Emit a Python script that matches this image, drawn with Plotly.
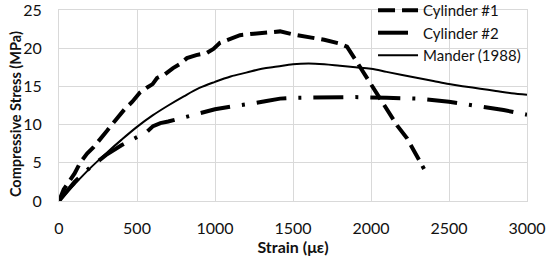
import plotly.graph_objects as go

cyl1_strain = [0, 30, 60, 100, 135, 180, 220, 263, 308, 327, 370, 420, 470, 519, 560, 600, 628, 680, 731, 780, 820, 880, 949, 990, 1032, 1100, 1160, 1250, 1372, 1417, 1500, 1600, 1700, 1800, 1846, 1900, 1994, 2080, 2167, 2231, 2290, 2340]
cyl1_stress = [0, 1.5, 2.4, 3.6, 5.0, 6.2, 7.0, 8.0, 9.2, 9.7, 10.8, 12.0, 13.0, 14.2, 14.8, 15.3, 16.1, 16.6, 17.4, 18.0, 18.7, 19.1, 19.4, 19.9, 20.7, 21.2, 21.7, 21.9, 22.1, 22.2, 21.8, 21.5, 21.1, 20.6, 20.2, 18.5, 15.4, 12.7, 9.9, 8.2, 6.1, 4.2]

cyl2_strain = [0, 50, 100, 200, 300, 400, 500, 560, 603, 650, 700, 800, 904, 1000, 1115, 1200, 1250, 1330, 1417, 1500, 1700, 1900, 2100, 2300, 2500, 2700, 2850, 3000]
cyl2_stress = [0, 1.3, 2.5, 4.4, 6.0, 7.3, 8.3, 9.0, 9.8, 10.2, 10.4, 10.9, 11.5, 12.0, 12.4, 12.6, 12.8, 13.1, 13.4, 13.5, 13.6, 13.6, 13.5, 13.4, 13.0, 12.4, 11.9, 11.3]

mander_strain = [0, 100, 200, 300, 400, 500, 600, 700, 800, 900, 1000, 1100, 1200, 1300, 1400, 1500, 1600, 1700, 1800, 1900, 2000, 2100, 2200, 2300, 2400, 2500, 2600, 2700, 2800, 2900, 3000]
mander_stress = [0, 2.2, 4.3, 6.2, 8.0, 9.7, 11.2, 12.5, 13.7, 14.8, 15.6, 16.3, 16.8, 17.3, 17.6, 17.9, 18.0, 17.9, 17.7, 17.5, 17.3, 16.9, 16.5, 16.1, 15.7, 15.3, 15.0, 14.7, 14.4, 14.1, 13.9]

series_names = ["Cylinder #1", "Cylinder #2", "Mander (1988)"]
x_ticks = [0, 500, 1000, 1500, 2000, 2500, 3000]
y_ticks = [0, 5, 10, 15, 20, 25]

FONT = "Lato, 'Open Sans', sans-serif"
TXT = "#111111"

fig = go.Figure()
fig.add_trace(go.Scatter(x=cyl1_strain, y=cyl1_stress, mode="lines", name=series_names[0],
                         line=dict(color="black", width=4, dash="17px,7px")))
fig.add_trace(go.Scatter(x=cyl2_strain, y=cyl2_stress, mode="lines", name=series_names[1],
                         line=dict(color="black", width=4, dash="30px,12px,3px,12px")))
fig.add_trace(go.Scatter(x=mander_strain, y=mander_stress, mode="lines", name=series_names[2],
                         line=dict(color="black", width=2, shape="spline")))

fig.update_layout(
    width=547, height=262,
    margin=dict(l=59, r=20, t=10, b=61, autoexpand=False),
    paper_bgcolor="white", plot_bgcolor="white",
    font=dict(family=FONT, size=16, color=TXT),
    legend=dict(x=0.671, y=1.084, xanchor="left", yanchor="top", bgcolor="rgba(0,0,0,0)",
                font=dict(size=15, color=TXT), tracegroupgap=0, itemwidth=40),
    xaxis=dict(range=[0, 3000], tickvals=x_ticks, showgrid=True, gridcolor="#d9d9d9", gridwidth=1,
               showline=True, linecolor="#d9d9d9", mirror=True, zeroline=False, ticks="",
               automargin=False, ticklabelstandoff=13, ticklabeloverflow="allow",
               tickfont=dict(size=16, color=TXT),
               title=dict(text="<b>Strain (με)</b>", font=dict(size=16, color=TXT), standoff=3)),
    yaxis=dict(range=[0, 25], tickvals=y_ticks, showgrid=True, gridcolor="#d9d9d9", gridwidth=1,
               showline=True, linecolor="#d9d9d9", mirror=True, zeroline=False, ticks="",
               automargin=False, ticklabelstandoff=13, ticklabeloverflow="allow",
               tickfont=dict(size=16, color=TXT)),
    annotations=[dict(text="<b>Compressive Stress (MPa)</b>", textangle=-90, showarrow=False,
                      xref="paper", yref="paper", x=-0.094, y=0.455, xanchor="center", yanchor="middle",
                      font=dict(size=14.5, color=TXT))],
)

fig.write_html("out.html", config={"displayModeBar": False},
               post_script="document.body.style.margin='0';document.body.style.overflow='hidden';")
